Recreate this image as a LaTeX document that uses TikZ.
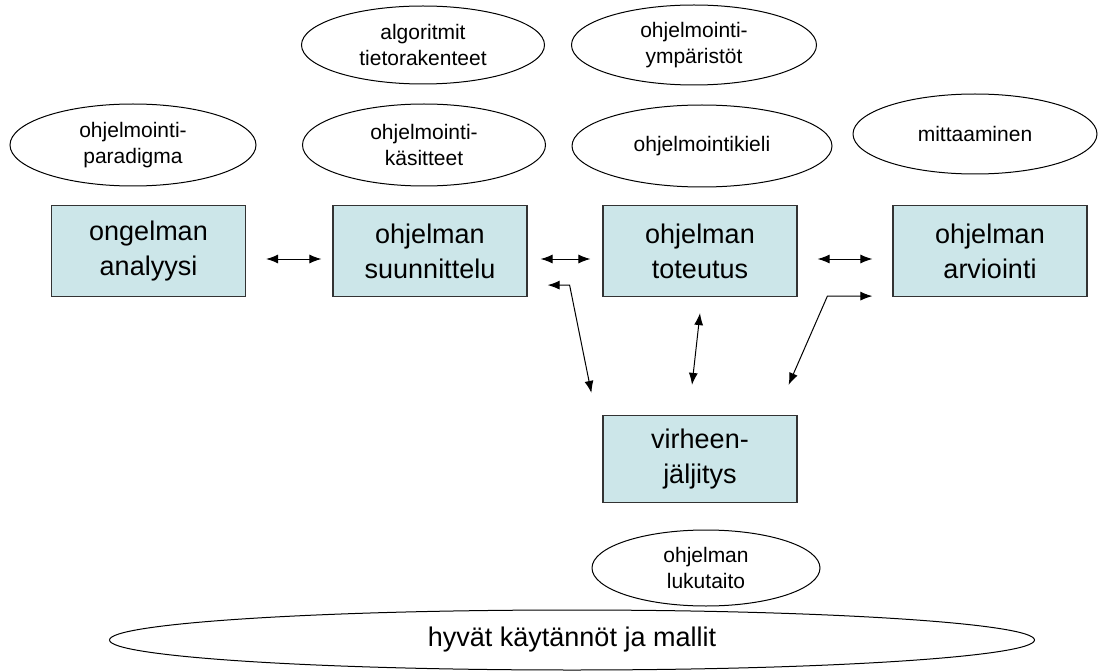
\documentclass[tikz,border=0pt]{standalone}
\usepackage{fontspec}
\setmainfont{Liberation Sans}
\usetikzlibrary{arrows.meta,shapes.geometric}
\definecolor{boxblue}{RGB}{204,230,233}
\tikzset{
  prog/.style={draw=black!80, fill=boxblue, line width=1.2pt, minimum width=194pt,
    minimum height=91pt, inner sep=0pt, align=center, font=\fontsize{27}{35}\selectfont},
  topic/.style={draw, ellipse, line width=1pt, inner sep=0pt, align=center,
    font=\fontsize{21}{26}\selectfont},
  link/.style={<->, >={Latex[length=12pt,width=9pt]}, line width=1pt},
}

\begin{document}
\begin{tikzpicture}[x=1pt,y=-1pt]
      \useasboundingbox (0,0) rectangle (1108,671);
      % topics
      \node[topic, minimum width=243pt, minimum height=78pt] (algo) at (423,45) {algoritmit\\tietorakenteet};
      \node[topic, minimum width=245pt, minimum height=80pt] (ymp) at (694,45) {ohjelmointi-\\ympäristöt};
      \node[topic, minimum width=246pt, minimum height=82pt] (par) at (133,145) {ohjelmointi-\\paradigma};
      \node[topic, minimum width=243pt, minimum height=82pt] (kas) at (424,145) {ohjelmointi-\\käsitteet};
      \node[topic, minimum width=260pt, minimum height=82pt] (kieli) at (702,146) {ohjelmointikieli};
      \node[topic, minimum width=244pt, minimum height=80pt] (mitt) at (975,134) {mittaaminen};
      % phases
      \node[prog] (ana) at (148.5,251) {ongelman\\analyysi};
      \node[prog] (suun) at (430,251) {ohjelman\\suunnittelu};
      \node[prog] (tot) at (700,251) {ohjelman\\toteutus};
      \node[prog] (arv) at (990,251) {ohjelman\\arviointi};
      \node[prog, minimum height=87pt] (virhe) at (700,459) {virheen-\\jäljitys};
      \node[topic, minimum width=228pt, minimum height=76pt] (luku) at (706,568) {ohjelman\\lukutaito};
      \node[topic, minimum width=925pt, minimum height=60pt, font=\fontsize{27}{35}\selectfont] (hyv) at (572,640) {hyvät käytännöt ja mallit};
      % arrows
      \draw[link] ([xshift=20pt,yshift=-8pt]ana.east) -- ([xshift=-11pt,yshift=-8pt]suun.west);
      \draw[link] ([xshift=13pt,yshift=-8pt]suun.east) -- ([xshift=-12pt,yshift=-8pt]tot.west);
      \draw[link] ([xshift=20pt,yshift=-8pt]tot.east) -- ([xshift=-20pt,yshift=-8pt]arv.west);
      \draw[link] ([xshift=20pt,yshift=12pt]suun.south east) -- ++(22,0) -- ([xshift=-11pt,yshift=22pt]virhe.north west);
      \draw[link] ([yshift=-16pt]tot.south) -- ([xshift=-8pt,yshift=30pt]virhe.north);
      \draw[link] ([xshift=-20pt,yshift=1pt]arv.south west) -- ++(-45,0) -- ([xshift=-9pt,yshift=30pt]virhe.north east);
\end{tikzpicture}
\end{document}
